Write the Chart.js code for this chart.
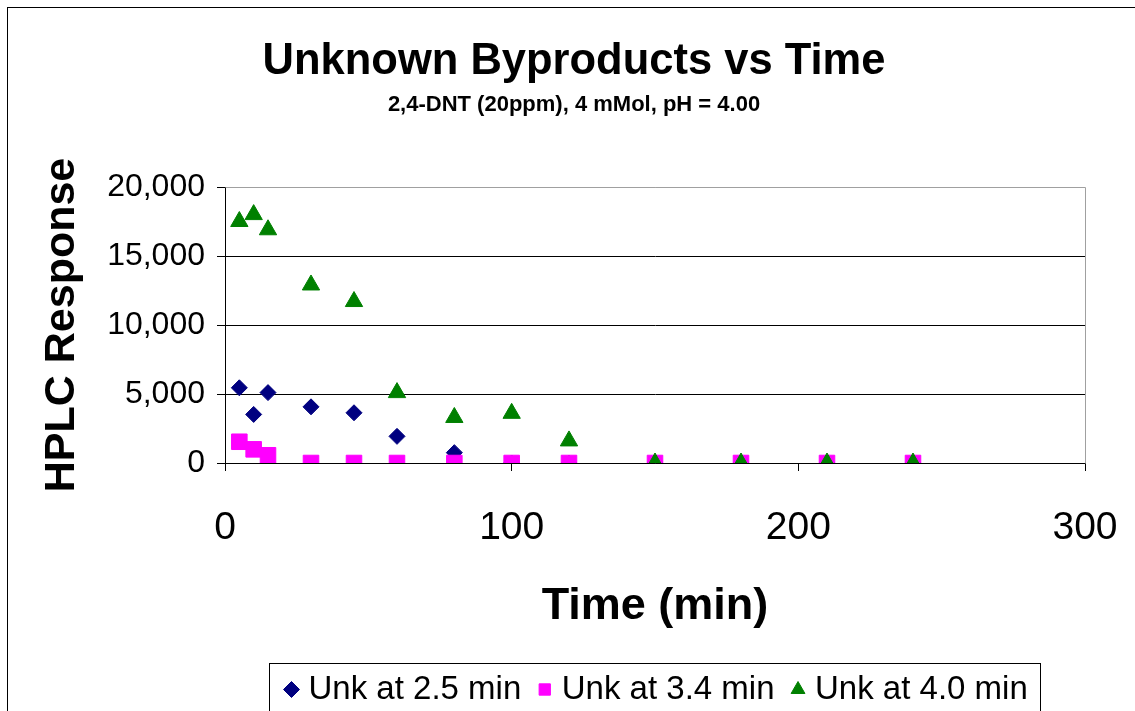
<!DOCTYPE html>
<html>
<head>
<meta charset="utf-8">
<script src="https://cdn.jsdelivr.net/npm/chart.js@4.4.1/dist/chart.umd.min.js"></script>
<style>
  html, body { margin: 0; padding: 0; background: #ffffff; }
  #wrap { width: 1135px; height: 711px; position: relative; overflow: hidden; }
</style>
</head>
<body>
<div id="wrap"><canvas id="c" width="1135" height="711"></canvas></div>
<script>
// ---------- data ----------
const chartTitle = 'Unknown Byproducts vs Time';
const chartSubtitle = '2,4-DNT (20ppm), 4 mMol, pH = 4.00';
const xAxisTitle = 'Time (min)';
const yAxisTitle = 'HPLC Response';
const seriesNames = ['Unk at 2.5 min', 'Unk at 3.4 min', 'Unk at 4.0 min'];
const timeMin = [5, 10, 15, 30, 45, 60, 80, 100, 120, 150, 180, 210, 240];
const unk25 = [5450, 3520, 5100, 4070, 3640, 1930, 750, 0, 0, 0, 0, 0, 0];
const unk34 = [1540, 990, 560, 0, 0, 0, 0, 0, 0, 0, 0, 0, 0];
const unk40 = [17500, 18000, 16900, 12900, 11700, 5100, 3300, 3600, 1600, 0, 0, 0, 0];
const xTicks = [0, 100, 200, 300];
const yTicks = [0, 5000, 10000, 15000, 20000];

// ---------- styling ----------
const FONT = 'Arial, "Liberation Sans", Helvetica, sans-serif';
const toPoints = arr => timeMin.map((t, i) => ({ x: t, y: arr[i] }));

const legendFrame = {
  id: 'legendFrame',
  afterLayout(chart) {
    const lg = chart.legend;
    if (!lg || !lg.lineWidths) return;
    const pad = lg.options.labels.padding;
    const curStart = (lg.left + pad + lg.right - lg.lineWidths[0]) / 2;
    const dx = 291 - curStart;
    lg.left += dx; lg.right += dx;
    lg._frame = {
      start: 291,
      end: 291 + lg.lineWidths[0] - pad,
      cy: lg.top + pad + 16.5
    };
  },
  beforeDatasetsDraw(chart) {
    const { ctx, chartArea: a } = chart;
    ctx.save();
    ctx.strokeStyle = '#a0a0a0';
    ctx.lineWidth = 1;
    ctx.beginPath();
    ctx.moveTo(Math.round(a.left) + 0.5, Math.round(a.top) + 0.5);
    ctx.lineTo(Math.round(a.right) + 0.5, Math.round(a.top) + 0.5);
    ctx.lineTo(Math.round(a.right) + 0.5, Math.round(a.bottom) + 0.5);
    ctx.stroke();
    ctx.restore();
  },
  afterDraw(chart) {
    const { ctx } = chart;
    ctx.save();
    ctx.strokeStyle = '#000000';
    ctx.lineWidth = 1;
    // outer chart frame
    ctx.strokeRect(7.5, 7.5, 1140, 740);
    const f = chart.legend && chart.legend._frame;
    if (f) {
      const l = Math.round(f.start - 22) + 0.5;
      const r = Math.round(f.end + 12) + 0.5;
      const t = Math.round(f.cy - 27) + 0.5;
      ctx.strokeRect(l, t, r - l, 100);
    }
    ctx.restore();
  }
};

new Chart(document.getElementById('c'), {
  type: 'scatter',
  data: {
    datasets: [
      { label: seriesNames[0], data: toPoints(unk25), pointStyle: 'rectRot', pointRadius: 8, pointHoverRadius: 8,
        backgroundColor: '#000080', borderColor: '#000080', borderWidth: 1, order: 3 },
      { label: seriesNames[1], data: toPoints(unk34), pointStyle: 'rect', pointRadius: 11, pointHoverRadius: 11,
        backgroundColor: '#ff00ff', borderColor: '#ff00ff', borderWidth: 1, order: 2 },
      { label: seriesNames[2], data: toPoints(unk40), pointStyle: 'triangle', pointRadius: 10, pointHoverRadius: 10,
        backgroundColor: '#008000', borderColor: '#008000', borderWidth: 1, order: 1 }
    ]
  },
  options: {
    responsive: false,
    animation: false,
    devicePixelRatio: 1,
    layout: { padding: { left: 63, right: 50, top: 0, bottom: -5 } },
    plugins: {
      title: {
        display: true, text: chartTitle, color: '#000',
        font: { family: FONT, size: 43.5, weight: 'bold', lineHeight: 1.2 },
        padding: { top: 35.4, bottom: 0 }
      },
      subtitle: {
        display: true, text: chartSubtitle, color: '#000',
        font: { family: FONT, size: 22, weight: 'bold', lineHeight: 1.2 },
        padding: { top: 4, bottom: 69 }
      },
      legend: {
        display: true, position: 'bottom',
        labels: {
          usePointStyle: true, boxWidth: 1, boxHeight: 11.3, padding: 23,
          color: '#000', font: { family: FONT, size: 33 },
          sort: (a, b) => a.datasetIndex - b.datasetIndex
        }
      },
      tooltip: { enabled: false }
    },
    scales: {
      x: {
        type: 'linear', position: 'bottom', min: 0, max: 300,
        afterBuildTicks: s => { s.ticks = xTicks.map(v => ({ value: v })); },
        afterFit: s => { s.height = 187; s.paddingLeft = 0; s.paddingRight = 0; },
        ticks: { color: '#000', font: { family: FONT, size: 39 }, padding: 34, maxRotation: 0 },
        grid: { drawOnChartArea: false, drawTicks: true, tickLength: 8, tickColor: '#000', color: '#000' },
        border: { display: true, color: '#000', width: 1 },
        title: {
          display: true, text: xAxisTitle, color: '#000',
          font: { family: FONT, size: 45, weight: 'bold', lineHeight: 1.2 },
          padding: { top: 0, bottom: 16 }
        }
      },
      y: {
        type: 'linear', position: 'left', min: 0, max: 20000,
        afterBuildTicks: s => { s.ticks = yTicks.map(v => ({ value: v })); },
        afterFit: s => { s.width = 162; s.paddingTop = 0; s.paddingBottom = 0; },
        ticks: {
          color: '#000', font: { family: FONT, size: 32 }, padding: 12,
          callback: v => v.toLocaleString('en-US')
        },
        grid: {
          color: c => (c.tick && c.tick.value === 20000) ? '#a0a0a0' : '#000000',
          tickColor: '#000', tickLength: 8, lineWidth: 1
        },
        border: { display: true, color: '#000', width: 1 },
        title: {
          display: true, text: yAxisTitle, color: '#000',
          font: { family: FONT, size: 43, weight: 'bold', lineHeight: 1.2 },
          padding: { top: -27, bottom: 0 }
        }
      }
    }
  },
  plugins: [legendFrame]
});
</script>
</body>
</html>
